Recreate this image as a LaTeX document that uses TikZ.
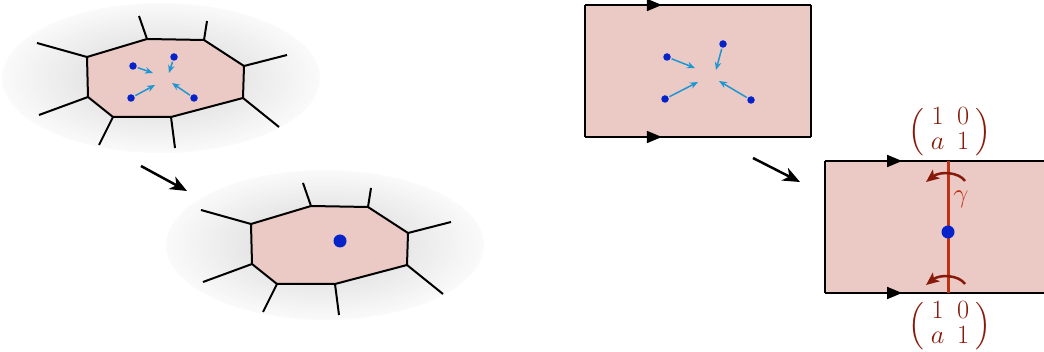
\documentclass[tikz,border=0pt]{standalone}
\usepackage{amsmath}
\usetikzlibrary{arrows.meta,decorations.markings}
\definecolor{pinkfill}{RGB}{235,201,197}
\definecolor{redline}{RGB}{190,50,20}
\definecolor{darkred}{RGB}{135,25,10}
\definecolor{dotblue}{RGB}{5,35,200}
\definecolor{arrblue}{RGB}{30,150,210}
\newcommand\gmat{{\setlength{\arraycolsep}{5pt}\renewcommand{\arraystretch}{0.9}$\left(\begin{array}{cc}1&0\\a&1\end{array}\right)$}}
\tikzset{
  cellline/.style={line width=2pt, line join=round},
  edgeline/.style={line width=1.8pt},
  smalldot/.style={circle, fill=dotblue, inner sep=0pt, minimum size=7.5pt},
  bigdot/.style={circle, fill=dotblue, inner sep=0pt, minimum size=13pt},
  bluearr/.style={arrblue, line width=1.5pt, -{Stealth[length=8pt,width=6.5pt]}, shorten <=1pt},
  steparrow/.style={line width=2.5pt, -{Stealth[length=17pt,width=14pt,inset=5pt]}},
  markedge/.style={postaction={decorate}, decoration={markings, mark=at position #1 with {\arrow{Triangle[length=15pt,width=12pt]}}}},
  markedge/.default=0.34,
  redaxis/.style={redline, line width=3pt},
  twist/.style={darkred, line width=2.5pt, -{Stealth[length=13pt,width=11pt,inset=3pt]}},
  mlabel/.style={text=darkred, font=\fontsize{20}{22}\selectfont, inner sep=0pt, scale=1.27},
  cellpic/.pic={
    \foreach \k in {0,...,30}{
      \pgfmathsetmacro\ellf{1-\k*0.02}
      \pgfmathsetmacro\ellg{2+\k*0.3}
      \fill[black!\ellg] (0,0) ellipse[x radius=\ellf*159pt, y radius=\ellf*75pt];
    }
    \coordinate (-v1) at (-74,-21);
    \coordinate (-v2) at (-14,-39);
    \coordinate (-v3) at (43,-38);
    \coordinate (-v4) at (83,-12);
    \coordinate (-v5) at (82,20);
    \coordinate (-v6) at (10,39);
    \coordinate (-v7) at (-48,39);
    \coordinate (-v8) at (-73,19);
    \coordinate (-s1) at (-124,-35);
    \coordinate (-s2) at (-22,-62);
    \coordinate (-s3) at (46,-57);
    \coordinate (-s4) at (126,-23);
    \coordinate (-s5) at (118,49);
    \coordinate (-s6) at (14,70);
    \coordinate (-s7) at (-62,67);
    \coordinate (-s8) at (-122,37);
    \foreach \i in {1,...,8}{\draw[cellline] (-v\i) -- (-s\i);}
    \filldraw[cellline, fill=pinkfill] (-v1) -- (-v2) -- (-v3) -- (-v4) -- (-v5) -- (-v6) -- (-v7) -- (-v8) -- cycle;
  }
}
\begin{document}
\begin{tikzpicture}[x=1pt,y=-1pt]
\useasboundingbox (0,0) rectangle (1044,352);

% left: cells
\pic (topcell) at (161,78) {cellpic};
\pic (botcell) at (325,245) {cellpic};

\node[smalldot] (a1) at (133,66) {};
\node[smalldot] (a2) at (174,57) {};
\node[smalldot] (a3) at (131,98) {};
\node[smalldot] (a4) at (194,98) {};
\coordinate (a1t) at (153,73);
\coordinate (a2t) at (169,73);
\coordinate (a3t) at (155,85);
\coordinate (a4t) at (172,83);
\foreach \i in {1,...,4}{\draw[bluearr] (a\i) -- (a\i t);}

\node[bigdot] (b0) at (340,241) {};

\coordinate (k1s) at (141,166);
\coordinate (k1e) at (187,191);
\draw[steparrow] (k1s) -- (k1e);

% right: top rectangle
\coordinate (r1a) at (585,5);
\coordinate (r1b) at (811,5);
\coordinate (r1c) at (811,137);
\coordinate (r1d) at (585,137);
\fill[pinkfill] (r1a) rectangle (r1c);
\draw[edgeline] (r1a) -- (r1d);
\draw[edgeline] (r1b) -- (r1c);
\draw[edgeline, markedge=0.34] (r1a) -- (r1b);
\draw[edgeline, markedge=0.34] (r1d) -- (r1c);

\node[smalldot] (c1) at (667,57) {};
\node[smalldot] (c2) at (723,44) {};
\node[smalldot] (c3) at (665,99) {};
\node[smalldot] (c4) at (751,100) {};
\coordinate (c1t) at (695,68);
\coordinate (c2t) at (716,70);
\coordinate (c3t) at (698,82);
\coordinate (c4t) at (719,81);
\foreach \i in {1,...,4}{\draw[bluearr] (c\i) -- (c\i t);}

\coordinate (k2s) at (753,158);
\coordinate (k2e) at (800,182);
\draw[steparrow] (k2s) -- (k2e);

% right: bottom rectangle
\coordinate (r2a) at (825,161);
\coordinate (r2b) at (1044,161);
\coordinate (r2c) at (1044,293);
\coordinate (r2d) at (825,293);
\fill[pinkfill] (r2a) rectangle (r2c);
\draw[edgeline] (r2a) -- (r2d);
\draw[edgeline, markedge=0.352] (r2a) -- (r2b);
\draw[edgeline, markedge=0.352] (r2d) -- (r2c);

\coordinate (g1) at (948,161);
\coordinate (g2) at (948,293);
\draw[redaxis] (g1) -- (g2);
\node[bigdot] (q) at (948,232) {};

\coordinate (t1s) at (965,181);
\coordinate (t1e) at (926,182);
\draw[twist] (t1s) .. controls (959,172) and (940,171) .. (t1e);
\coordinate (t2s) at (965,284);
\coordinate (t2e) at (926,285);
\draw[twist] (t2s) .. controls (959,275) and (940,274) .. (t2e);

\node[text=redline, font=\fontsize{20}{24}\selectfont, inner sep=0pt, scale=1.3] (gam) at (961,199) {$\gamma$};
\node[mlabel] (mtop) at (950,132) {\gmat};
\node[mlabel] (mbot) at (950,326) {\gmat};
\end{tikzpicture}
\end{document}
